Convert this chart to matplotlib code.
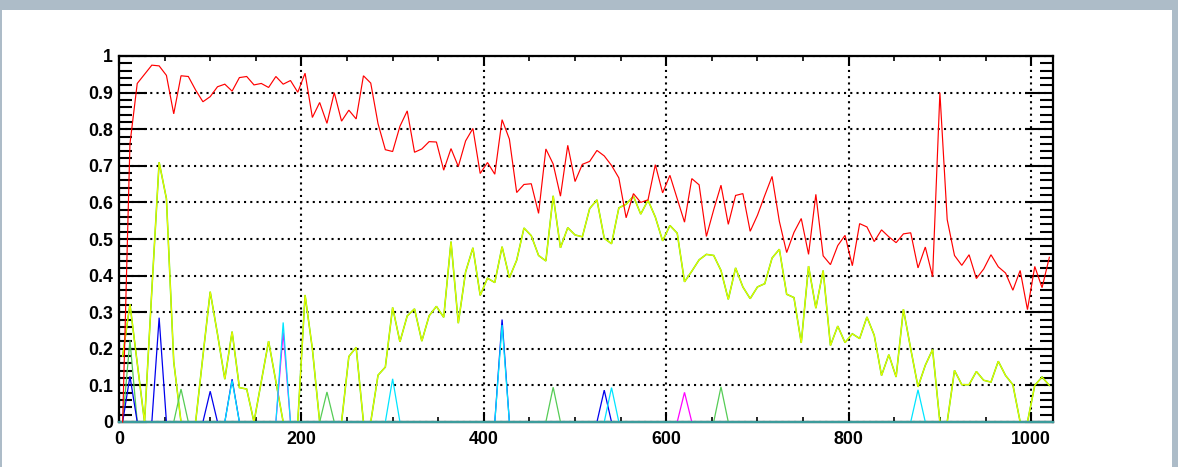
import numpy as np
import matplotlib
matplotlib.use("Agg")
import matplotlib.pyplot as plt
from matplotlib.ticker import MultipleLocator
from matplotlib.patches import Rectangle

plt.rcParams["lines.scale_dashes"] = False
plt.rcParams["font.family"] = ["Liberation Sans", "DejaVu Sans"]

# Histogram binning: 128 bins of width 8 over 0..1024
BIN_WIDTH = 8
N_BINS = 128
bin_centers = np.arange(N_BINS) * BIN_WIDTH + BIN_WIDTH / 2

red_values = [
    0.0, 0.76, 0.925, 0.95, 0.975, 0.973, 0.947, 0.842, 0.946, 0.944,
    0.907, 0.875, 0.889, 0.916, 0.923, 0.904, 0.941, 0.944, 0.921, 0.925,
    0.914, 0.944, 0.923, 0.933, 0.901, 0.953, 0.832, 0.873, 0.816, 0.900,
    0.822, 0.852, 0.828, 0.946, 0.926, 0.815, 0.744, 0.739, 0.808, 0.850,
    0.737, 0.746, 0.766, 0.765, 0.688, 0.747, 0.698, 0.768, 0.802, 0.679,
    0.709, 0.677, 0.826, 0.773, 0.627, 0.649, 0.651, 0.570, 0.746, 0.705,
    0.617, 0.756, 0.657, 0.704, 0.712, 0.742, 0.727, 0.701, 0.667, 0.558,
    0.624, 0.600, 0.607, 0.703, 0.626, 0.674, 0.610, 0.546, 0.665, 0.648,
    0.507, 0.580, 0.647, 0.540, 0.619, 0.624, 0.521, 0.565, 0.619, 0.671,
    0.548, 0.463, 0.518, 0.556, 0.458, 0.622, 0.454, 0.430, 0.482, 0.510,
    0.427, 0.542, 0.533, 0.493, 0.525, 0.506, 0.490, 0.514, 0.517, 0.421,
    0.478, 0.397, 0.900, 0.553, 0.455, 0.428, 0.457, 0.392, 0.418, 0.457,
    0.424, 0.407, 0.360, 0.414, 0.307, 0.425, 0.367, 0.450,
]

yellow_values = [
    0.18, 0.322, 0.16, 0.0, 0.36, 0.71, 0.61, 0.165, 0.0, 0.0,
    0.0, 0.18, 0.356, 0.24, 0.117, 0.247, 0.094, 0.09, 0.0, 0.11,
    0.221, 0.11, 0.0, 0.0, 0.0, 0.347, 0.2, 0.0, 0.0, 0.0,
    0.0, 0.179, 0.204, 0.0, 0.0, 0.128, 0.15, 0.313, 0.219, 0.29,
    0.309, 0.221, 0.29, 0.316, 0.286, 0.493, 0.27, 0.41, 0.476, 0.346,
    0.393, 0.381, 0.479, 0.394, 0.442, 0.53, 0.509, 0.455, 0.44, 0.618,
    0.476, 0.531, 0.511, 0.506, 0.583, 0.607, 0.502, 0.487, 0.585, 0.595,
    0.617, 0.568, 0.606, 0.56, 0.495, 0.537, 0.516, 0.383, 0.412, 0.443,
    0.458, 0.455, 0.414, 0.335, 0.421, 0.369, 0.337, 0.369, 0.378, 0.448,
    0.472, 0.349, 0.34, 0.216, 0.426, 0.311, 0.414, 0.209, 0.262, 0.217,
    0.241, 0.228, 0.287, 0.237, 0.127, 0.184, 0.123, 0.308, 0.2, 0.096,
    0.155, 0.198, 0.0, 0.0, 0.141, 0.102, 0.102, 0.138, 0.114, 0.109,
    0.166, 0.127, 0.102, 0.0, 0.0, 0.1, 0.123, 0.1,
]

# Sparse series: bin index -> value, zero elsewhere
green_bins = [1, 8, 28, 59, 82]
green_peaks = [0.223, 0.09, 0.082, 0.095, 0.096]
blue_bins = [1, 5, 12, 15, 52, 66]
blue_peaks = [0.125, 0.285, 0.084, 0.117, 0.28, 0.087]
magenta_bins = [22, 77]
magenta_peaks = [0.245, 0.081]
cyan_bins = [15, 22, 37, 52, 67, 109]
cyan_peaks = [0.113, 0.272, 0.118, 0.265, 0.094, 0.088]

x_ticks = [0, 200, 400, 600, 800, 1000]
x_tick_labels = ["0", "200", "400", "600", "800", "1000"]
y_ticks = [0.0, 0.1, 0.2, 0.3, 0.4, 0.5, 0.6, 0.7, 0.8, 0.9, 1.0]
y_tick_labels = ["0", "0.1", "0.2", "0.3", "0.4", "0.5", "0.6", "0.7", "0.8", "0.9", "1"]


def sparse_series(bins, peaks):
    values = np.zeros(N_BINS)
    values[bins] = peaks
    return values


W, H = 1178, 467
fig = plt.figure(figsize=(W / 100, H / 100), dpi=100)
fig.patch.set_facecolor("#adbcc8")
fig.add_artist(Rectangle((2 / W, 0), 1170 / W, 457 / H, transform=fig.transFigure,
                         facecolor="white", edgecolor="none", zorder=0))

ax = fig.add_axes([119 / W, 1 - 422 / H, 934 / W, 366 / H])
ax.set_facecolor("white")

kw = dict(clip_on=False, solid_joinstyle="miter")
ax.plot(bin_centers, yellow_values, color="#44e000", lw=1.1, zorder=3, **kw)
ax.plot(bin_centers, yellow_values, color="#eef800", lw=0.8, zorder=3.1, **kw)
ax.plot(bin_centers, sparse_series(green_bins, green_peaks), color="#55cc55", lw=0.9, zorder=3.2, **kw)
ax.plot(bin_centers, sparse_series(blue_bins, blue_peaks), color="#0000ee", lw=0.9, zorder=3.3, **kw)
ax.plot(bin_centers, sparse_series(magenta_bins, magenta_peaks), color="#ff00ff", lw=0.9, zorder=3.4, **kw)
ax.plot(bin_centers, sparse_series(cyan_bins, cyan_peaks), color="#00e5ff", lw=0.9, zorder=3.5, **kw)
ax.plot([0, 1024], [0, 0], color="#3c9c9c", lw=1.6, zorder=3.6, clip_on=False)
ax.plot(bin_centers, red_values, color="#ff0000", lw=0.85, zorder=4, **kw)

ax.set_xlim(0, 1024)
ax.set_ylim(0, 1)

ax.set_xticks(x_ticks, x_tick_labels)
ax.set_yticks(y_ticks, y_tick_labels)
ax.xaxis.set_minor_locator(MultipleLocator(50))
ax.yaxis.set_minor_locator(MultipleLocator(0.02))

for lab in ax.get_xticklabels() + ax.get_yticklabels():
    lab.set_fontweight("bold")
    lab.set_fontsize(12.8)

ax.tick_params(axis="y", which="major", direction="in", length=20, width=1.5,
               left=True, right=True, pad=4.5)
ax.tick_params(axis="y", which="minor", direction="in", length=9.5, width=1.5,
               left=True, right=True)
ax.tick_params(axis="x", which="major", direction="in", length=7, width=1.5,
               top=True, bottom=True, pad=6.5)
ax.tick_params(axis="x", which="minor", direction="in", length=3.5, width=1.2,
               top=True, bottom=True)

ax.grid(True, which="major", color="black", linestyle=(0, (1.5, 3.0)), linewidth=1.5)
ax.set_axisbelow(True)

for sp in ax.spines.values():
    sp.set_linewidth(1.6)
    sp.set_color("black")

fig.savefig("out.png", dpi=100, facecolor=fig.get_facecolor())
